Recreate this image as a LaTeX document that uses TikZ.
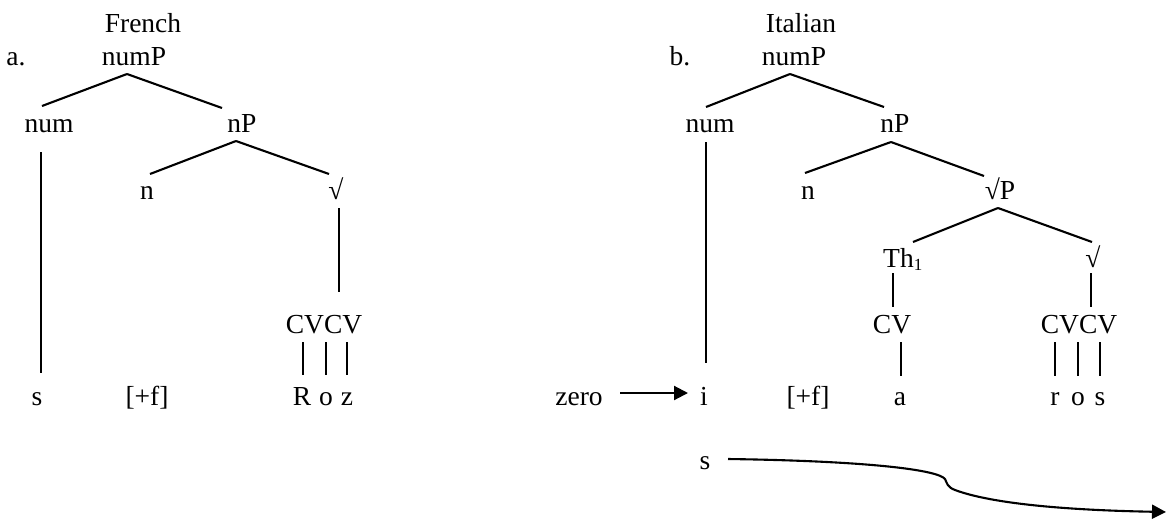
\documentclass[tikz,border=0pt]{standalone}
\usepackage{fontspec}
\setmainfont{Liberation Serif}
\usetikzlibrary{arrows.meta}
\begin{document}
\begin{tikzpicture}[x=1pt,y=-1pt,
  lbl/.style={anchor=base,inner sep=0pt,font=\fontsize{27.5}{32}\selectfont},
  ln/.style={line width=2.1pt},
  arr/.style={line width=2.1pt,-{Triangle[length=14pt,width=14pt]}}]
\useasboundingbox (0,0) rectangle (1166,520);
% ---------- left tree (French) ----------
\node[lbl] (frT) at (143,32) {French};
\node[lbl] (la) at (16,65) {a.};
\node[lbl] (LnumP) at (134,65) {numP};
\node[lbl] (Lnum) at (49,132) {num};
\node[lbl] (LnP) at (242,132) {nP};
\node[lbl] (Ln) at (147,199) {n};
\node[lbl] (Lsq) at (336,199) {√};
\node[lbl] (LCVCV) at (324,333) {CVCV};
\node[lbl] (Ls) at (37,405) {s};
\node[lbl] (Lf) at (147,405) {[+f]};
\node[lbl] (LR) at (302,405) {R};
\node[lbl] (Lo) at (326,405) {o};
\node[lbl] (Lz) at (347,405) {z};
\draw[ln] ([shift={(-7,9)}]LnumP.base) -- ([shift={(-7,-26)}]Lnum.base);
\draw[ln] ([shift={(-7,9)}]LnumP.base) -- ([shift={(-20,-24)}]LnP.base);
\draw[ln] ([shift={(-6,9)}]LnP.base) -- ([shift={(3,-25)}]Ln.base);
\draw[ln] ([shift={(-6,9)}]LnP.base) -- ([shift={(-7,-25)}]Lsq.base);
\draw[ln] ([shift={(3,9)}]Lsq.base) -- ([shift={(15,-41)}]LCVCV.base);
\draw[ln] ([shift={(-8,20)}]Lnum.base) -- ([shift={(4,-32)}]Ls.base);
\draw[ln] ([shift={(-21,9)}]LCVCV.base) -- ([shift={(1,-30)}]LR.base);
\draw[ln] ([shift={(2,9)}]LCVCV.base) -- ([shift={(0,-30)}]Lo.base);
\draw[ln] ([shift={(23,9)}]LCVCV.base) -- ([shift={(0,-30)}]Lz.base);
% ---------- right tree (Italian) ----------
\node[lbl] (itT) at (801,32) {Italian};
\node[lbl] (lb) at (680,65) {b.};
\node[lbl] (RnumP) at (794,65) {numP};
\node[lbl] (Rnum) at (710,132) {num};
\node[lbl] (RnP) at (895,132) {nP};
\node[lbl] (Rn) at (808,199) {n};
\node[lbl] (RsqP) at (1000,199) {√P};
\node[lbl,anchor=base west] (RTh) at (883,267) {Th\raisebox{-0.25ex}{\fontsize{17}{20}\selectfont 1}};
\node[lbl] (Rsq) at (1093,267) {√};
\node[lbl] (RCV) at (892,333) {CV};
\node[lbl] (RCVCV) at (1079,333) {CVCV};
\node[lbl] (zero) at (579,405) {zero};
\node[lbl] (Ri) at (704,405) {i};
\node[lbl] (Rf) at (808,405) {[+f]};
\node[lbl] (Ra) at (900,405) {a};
\node[lbl] (Rr) at (1055,405) {r};
\node[lbl] (Ro) at (1078,405) {o};
\node[lbl] (Rs) at (1100,405) {s};
\node[lbl] (Bs) at (705,469) {s};
\coordinate (curveend) at (1166,512);
\draw[ln] ([shift={(-4,9)}]RnumP.base) -- ([shift={(-4,-25)}]Rnum.base);
\draw[ln] ([shift={(-4,9)}]RnumP.base) -- ([shift={(-11,-25)}]RnP.base);
\draw[ln] ([shift={(-4,10)}]RnP.base) -- ([shift={(-3,-26)}]Rn.base);
\draw[ln] ([shift={(-4,10)}]RnP.base) -- ([shift={(-16,-23)}]RsqP.base);
\draw[ln] ([shift={(-2,9)}]RsqP.base) -- ([shift={(30,-25)}]RTh.base west);
\draw[ln] ([shift={(-2,9)}]RsqP.base) -- ([shift={(-1,-25)}]Rsq.base);
\draw[ln] ([shift={(-4,10)}]Rnum.base) -- ([shift={(2,-42)}]Ri.base);
\draw[ln] ([shift={(10,6)}]RTh.base west) -- ([shift={(1,-26)}]RCV.base);
\draw[ln] ([shift={(-2,6)}]Rsq.base) -- ([shift={(12,-26)}]RCVCV.base);
\draw[ln] ([shift={(9,9)}]RCV.base) -- ([shift={(1,-29)}]Ra.base);
\draw[ln] ([shift={(-24,9)}]RCVCV.base) -- ([shift={(0,-29)}]Rr.base);
\draw[ln] ([shift={(-1,9)}]RCVCV.base) -- ([shift={(0,-29)}]Ro.base);
\draw[ln] ([shift={(21,9)}]RCVCV.base) -- ([shift={(0,-29)}]Rs.base);
\draw[arr] ([shift={(41,-12)}]zero.base) -- ([shift={(-16,-12)}]Ri.base);
\draw[arr] ([shift={(23,-10)}]Bs.base) .. controls (870,461) and (938,470) .. (945,479)
  .. controls (947,483) and (947,487) .. (955,490)
  .. controls (990,503) and (1060,510) .. (curveend);
\end{tikzpicture}
\end{document}
